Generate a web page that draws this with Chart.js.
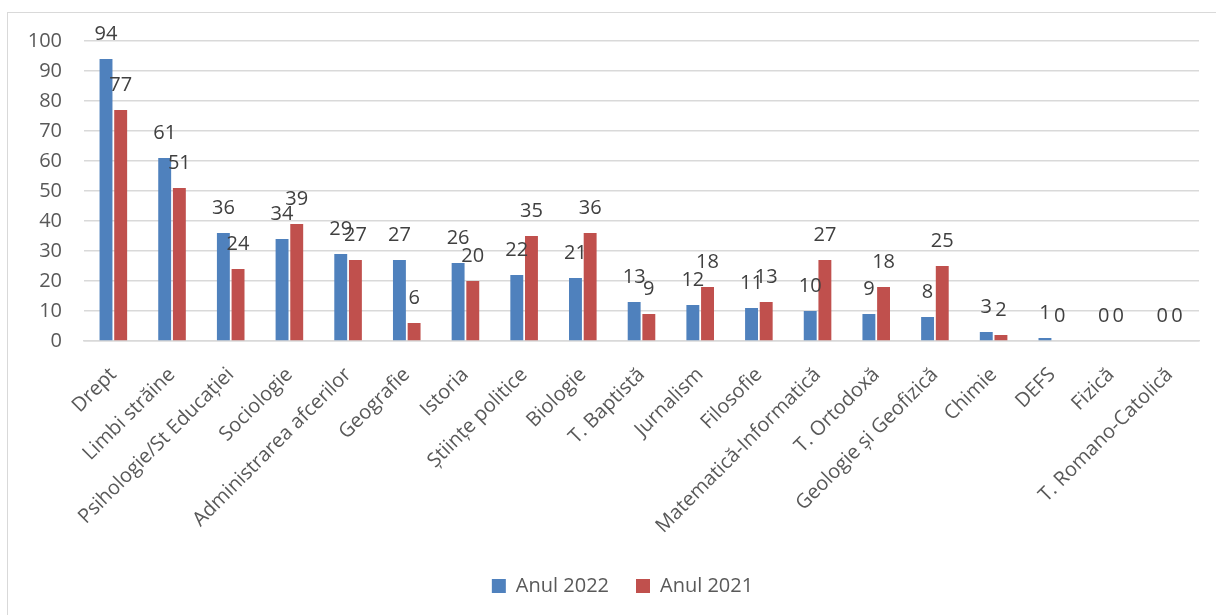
<!DOCTYPE html>
<html lang="ro">
<head>
<meta charset="utf-8">
<title>Anul 2022 / Anul 2021</title>
<script src="https://cdn.jsdelivr.net/npm/chart.js@4.4.1/dist/chart.umd.min.js"></script>
<style>
    html, body { margin: 0; padding: 0; background: #fff; }
    .frame {
        position: absolute; left: 7px; top: 12px;
        width: 1240px; height: 640px;
        border: 1.5px solid #d9d9d9;
    }
    .wrap { position: absolute; left: 0; top: 0; width: 1216px; height: 615px; }
</style>
</head>
<body>
<div class="frame"></div>
<div class="wrap"><canvas id="graficSpecialitati"></canvas></div>
<script>
const categorii = ['Drept', 'Limbi străine', 'Psihologie/St Educației', 'Sociologie',
    'Administrarea afcerilor', 'Geografie', 'Istoria', 'Științe politice', 'Biologie',
    'T. Baptistă', 'Jurnalism', 'Filosofie', 'Matematică-Informatică', 'T. Ortodoxă',
    'Geologie și Geofizică', 'Chimie', 'DEFS', 'Fizică', 'T. Romano-Catolică'];
const anul2022 = [94, 61, 36, 34, 29, 27, 26, 22, 21, 13, 12, 11, 10, 9, 8, 3, 1, 0, 0];
const anul2021 = [77, 51, 24, 39, 27, 6, 20, 35, 36, 9, 18, 13, 27, 18, 25, 2, 0, 0, 0];
const valoriAxaY = [0, 10, 20, 30, 40, 50, 60, 70, 80, 90, 100];

const FONT = '"Open Sans", sans-serif';

// valorile scrise deasupra fiecarei coloane
const eticheteValori = {
    id: 'eticheteValori',
    afterDatasetsDraw(chart) {
        const ctx = chart.ctx;
        ctx.save();
        ctx.font = '20px ' + FONT;
        ctx.fillStyle = '#404040';
        ctx.textAlign = 'center';
        ctx.textBaseline = 'middle';
        chart.data.datasets.forEach((ds, i) => {
            chart.getDatasetMeta(i).data.forEach((bar, j) => {
                ctx.fillText(String(ds.data[j]), bar.x, bar.y - 25);
            });
        });
        ctx.restore();
    }
};

// legenda putin mai la dreapta, centrata pe tot chenarul
const mutaLegenda = {
    id: 'mutaLegenda',
    afterLayout(chart) {
        chart.legend.left += 13;
        chart.legend.right += 13;
    }
};

const ctx = document.getElementById('graficSpecialitati').getContext('2d');
const grafic = new Chart(ctx, {
    type: 'bar',
    data: {
        labels: categorii,
        datasets: [
            {
                label: 'Anul 2022',
                data: anul2022,
                backgroundColor: '#4f81bd',
                categoryPercentage: 0.5,
                barPercentage: 0.88
            },
            {
                label: 'Anul 2021',
                data: anul2021,
                backgroundColor: '#c0504d',
                categoryPercentage: 0.5,
                barPercentage: 0.88
            }
        ]
    },
    options: {
        responsive: true,
        maintainAspectRatio: false,
        animation: false,
        layout: {
            padding: { left: 20, right: 17, top: 41, bottom: 9 }
        },
        plugins: {
            legend: {
                position: 'bottom',
                maxHeight: 67,
                labels: {
                    boxWidth: 14,
                    boxHeight: 14,
                    padding: 27,
                    color: '#595959',
                    font: { family: FONT, size: 20 }
                }
            },
            tooltip: { enabled: false }
        },
        scales: {
            x: {
                grid: { display: false, drawTicks: false },
                border: { display: true, color: '#d9d9d9', width: 1.5 },
                ticks: {
                    autoSkip: false,
                    maxRotation: 45,
                    minRotation: 45,
                    padding: 22,
                    color: '#595959',
                    font: { family: FONT, size: 20 }
                },
                afterFit(scale) { scale.height = 208; }
            },
            y: {
                min: 0,
                max: 100,
                afterBuildTicks(scale) {
                    scale.ticks = valoriAxaY.map(v => ({ value: v }));
                },
                grid: { color: '#d9d9d9', lineWidth: 1.5, drawTicks: false },
                border: { display: false },
                ticks: {
                    padding: 22,
                    color: '#595959',
                    font: { family: FONT, size: 20 }
                },
                afterFit(scale) { scale.width = 64; }
            }
        }
    },
    plugins: [eticheteValori, mutaLegenda]
});
</script>
</body>
</html>
